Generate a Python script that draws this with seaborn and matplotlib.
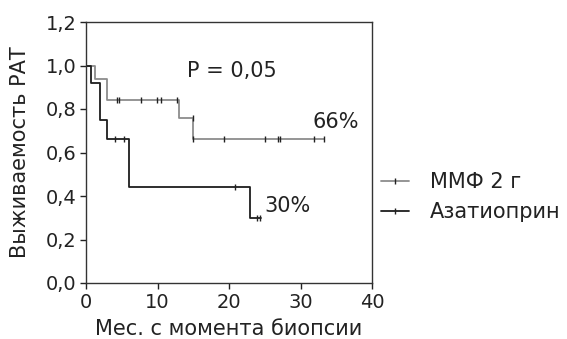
import numpy as np
import pandas as pd
import matplotlib
matplotlib.use("Agg")
import matplotlib.pyplot as plt
from matplotlib.lines import Line2D
import seaborn as sns

# Kaplan-Meier step curves (event times and survival after each step)
mmf_times = [0, 1.3, 3.0, 13.0, 14.9, 33.3]
mmf_surv = [1.0, 0.94, 0.84, 0.76, 0.66, 0.66]
aza_times = [0, 0.7, 2.0, 2.9, 6.0, 22.9, 24.5]
aza_surv = [1.0, 0.92, 0.75, 0.66, 0.44, 0.30, 0.30]

# censored observations
mmf_cens_t = [4.3, 4.6, 7.7, 9.9, 10.5, 12.7, 14.9, 14.9, 19.3, 25.1, 26.8, 27.1, 31.9, 33.3]
mmf_cens_s = [0.84, 0.84, 0.84, 0.84, 0.84, 0.84, 0.76, 0.66, 0.66, 0.66, 0.66, 0.66, 0.66, 0.66]
aza_cens_t = [4.1, 5.3, 20.9, 23.9, 24.3]
aza_cens_s = [0.66, 0.66, 0.44, 0.30, 0.30]

groups = ["ММФ 2 г", "Азатиоприн"]
colors = {"ММФ 2 г": "#8c8c8c", "Азатиоприн": "#1e1e1e"}

x_ticks = [0, 10, 20, 30, 40]
y_ticks = [0.0, 0.2, 0.4, 0.6, 0.8, 1.0, 1.2]

curves = pd.concat([
    pd.DataFrame({"t": mmf_times, "s": mmf_surv, "g": groups[0]}),
    pd.DataFrame({"t": aza_times, "s": aza_surv, "g": groups[1]}),
])
cens = pd.concat([
    pd.DataFrame({"t": mmf_cens_t, "s": mmf_cens_s, "g": groups[0]}),
    pd.DataFrame({"t": aza_cens_t, "s": aza_cens_s, "g": groups[1]}),
])

sns.set_style("ticks")
plt.rcParams["font.family"] = ["DejaVu Sans"]

TXT = "#222222"
fig = plt.figure(figsize=(5.67, 3.39), dpi=100)
ax = fig.add_axes([86 / 567, 1 - 283 / 339, 286 / 567, 261 / 339])

sns.lineplot(data=curves, x="t", y="s", hue="g", palette=colors,
             drawstyle="steps-post", estimator=None, linewidth=1.3,
             legend=False, ax=ax)
for g in groups:
    sub = cens[cens["g"] == g]
    ax.plot(sub["t"], sub["s"], linestyle="none", marker="|",
            markersize=5, markeredgewidth=1.0, color=TXT)

ax.set_xlim(0, 40)
ax.set_ylim(0, 1.2)
ax.set_xticks(x_ticks)
ax.set_xticklabels([str(v) for v in x_ticks])
ax.set_yticks(y_ticks)
ax.set_yticklabels([f"{v:.1f}".replace(".", ",") for v in y_ticks])
ax.tick_params(labelsize=14, length=4, width=1, colors=TXT, pad=3)
for sp in ax.spines.values():
    sp.set_visible(True)
    sp.set_color("#333333")
    sp.set_linewidth(1.0)

ax.set_xlabel("Мес. с момента биопсии", fontsize=15, color=TXT, labelpad=5)
ax.set_ylabel("Выживаемость РАТ", fontsize=15, color=TXT, labelpad=11)

ax.text(20.4, 0.977, "P = 0,05", fontsize=15, ha="center", va="center", color=TXT)
ax.text(35, 0.74, "66%", fontsize=15, ha="center", va="center", color=TXT)
ax.text(28.2, 0.355, "30%", fontsize=15, ha="center", va="center", color=TXT)

handles = [Line2D([], [], color=colors[g], linewidth=1.3, marker="|",
                  markersize=4, markeredgecolor=TXT) for g in groups]
fig.legend(handles, groups, loc="center left",
           bbox_to_anchor=(381 / 567, 1 - 197 / 339),
           frameon=False, fontsize=15, handlelength=1.35, handletextpad=1.0,
           labelspacing=0.5, borderpad=0, borderaxespad=0, labelcolor=TXT)

fig.savefig("out.png", dpi=100)
